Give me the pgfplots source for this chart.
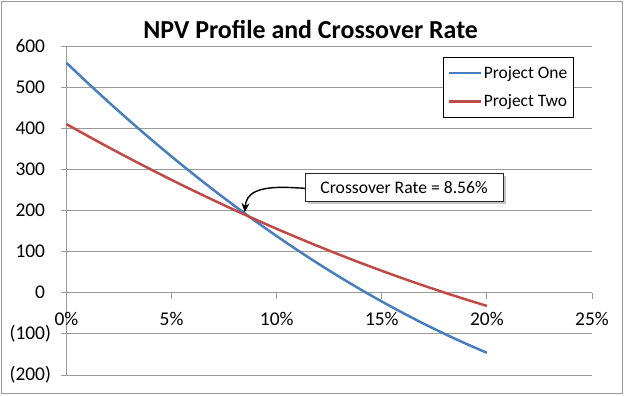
\documentclass[border=0pt]{standalone}
\usepackage{pgfplots}
\pgfplotsset{compat=1.18}
\usepackage{fontspec}
\setmainfont{Carlito}
\usetikzlibrary{shadows,arrows.meta}
\definecolor{pone}{HTML}{4A7EBB}
\definecolor{ptwo}{HTML}{BE4B48}
\definecolor{gridc}{HTML}{9A9A9A}
\begin{document}
\begin{tikzpicture}[x=1bp,y=1bp]
\useasboundingbox (0,0) rectangle (624,395);
\draw[color=gridc, line width=1bp] (1.5,1.5) rectangle (622.5,393.5);
\node[anchor=base, font=\fontsize{26}{30}\selectfont\bfseries, inner sep=0pt] at (310.7,357) {NPV Profile and Crossover Rate};
\begin{axis}[
  at={(66.5bp,20bp)}, anchor=south west,
  scale only axis, width=525.5bp, height=329bp,
  xmin=0, xmax=25, ymin=-200, ymax=600,
  axis x line=middle, axis y line=left,
  hide obscured x ticks=false,
  axis line style={draw=gridc, line width=1bp, -},
  every tick/.style={draw=gridc, line width=1bp},
  major tick length=6bp,
  xtick align=outside, ytick align=outside,
  xtick={0,5,10,15,20,25},
  xticklabels={0\%,5\%,10\%,15\%,20\%,25\%},
  ytick={-200,-100,0,100,200,300,400,500,600},
  yticklabels={(200),(100),0\hphantom{)},100\hphantom{)},200\hphantom{)},300\hphantom{)},400\hphantom{)},500\hphantom{)},600\hphantom{)}},
  ymajorgrids, grid style={draw=gridc, line width=1bp},
  ticklabel style={font=\fontsize{19.5}{22}\selectfont, text=black},
  /pgf/number format/assume math mode=true,
  xticklabel style={anchor=north, yshift=-10bp},
  yticklabel style={anchor=east, xshift=-6bp},
  legend style={at={(0.965,0.9666)}, anchor=north east, draw=black, line width=0.8bp,
     fill=white, font=\fontsize{17.5}{20}\selectfont, inner xsep=4bp, inner ysep=7bp,
     row sep=11bp, nodes={inner sep=2bp}},
  legend cell align=left,
  legend image code/.code={\draw[#1, line width=2.5bp] (0bp,0bp) -- (32bp,0bp);},
  clip=false,
]
\addplot[pone, line width=2.5bp, smooth] coordinates {
(0,559) (1,510.69) (2,463.75) (3,418.19) (4,374) (5,331.19) (6,289.75) (7,249.69)
(8,211) (9,173.69) (10,137.75) (11,103.19) (12,70) (13,38.19) (14,7.75) (15,-21.31)
(16,-49) (17,-75.31) (18,-100.25) (19,-123.81) (20,-146)};
\addlegendentry{Project One}
\addplot[ptwo, line width=2.5bp, smooth] coordinates {
(0,410) (1,381.54) (2,353.74) (3,326.62) (4,300.16) (5,274.38) (6,249.26) (7,224.82)
(8,201.04) (9,177.94) (10,155.5) (11,133.74) (12,112.64) (13,92.22) (14,72.46) (15,53.38)
(16,34.96) (17,17.22) (18,0.14) (19,-16.26) (20,-32)};
\addlegendentry{Project Two}
\draw[black, line width=1.4bp, -{Stealth[length=9bp,width=8bp]}]
  (axis cs:11.35,254) -- (axis cs:10.6,256)
  .. controls (axis cs:9.0,259) and (axis cs:8.55,240) .. (axis cs:8.48,196);
\node[draw=black!85, line width=1bp, fill=white, minimum width=198bp, minimum height=28.4bp,
  inner sep=0pt, font=\fontsize{17.7}{20}\selectfont,
  drop shadow={shadow xshift=2.5bp, shadow yshift=-2.5bp, opacity=0.45, fill=gray}]
  at (axis cs:16.06,256) {Crossover Rate = 8.56\%};
\end{axis}
\end{tikzpicture}
\end{document}
